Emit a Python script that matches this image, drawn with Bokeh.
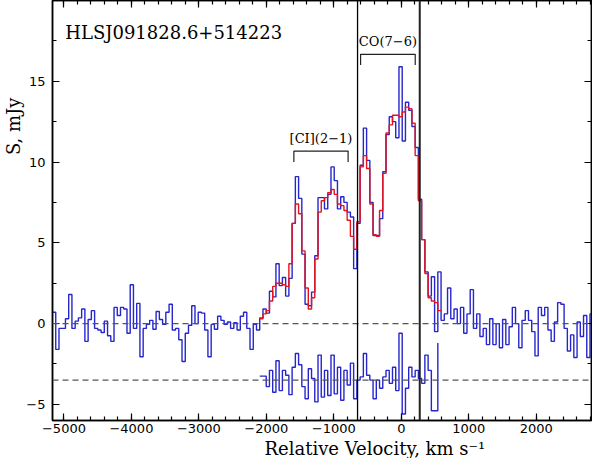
import numpy as np
from bokeh.plotting import figure
from bokeh.models import Span, Label, LinearAxis, Range1d, FixedTicker, Title
from bokeh.embed import file_html
from bokeh.resources import INLINE

# ---- data ----
v_start = -5170.0      # km/s, left edge of first channel
dv = 48.0              # km/s, channel width

flux = [0.7, -1.6, -0.3, -0.3, 0.3, 1.8, -0.3, 0.15, 0.35, 0.9,
        -1.1, 0.25, 0.8, -0.3, -0.4, -0.55, 0.15, -0.75, -1.1, 1.0,
        0.5, 1.0, 0.9, -0.6, 2.4, -0.3, 1.25, -2.05, -0.3, -0.05,
        0.2, -0.35, 0.75, 0.25, -0.05, 0.7, 1.2, -0.4, -0.3, -1.0,
        -2.35, -0.6, -0.1, 1.1, 0.0, 0.7, 0.65, -0.4, -2.05, -0.05,
        -0.35, 0.45, 0.2, -0.05, 0.1, -0.3, 0.05, -0.4, 0.45, 0.7,
        -0.3, -1.6, -0.05, -0.4,
        0.35, 0.9, 0.65, 2.0, 1.65, 3.7, 2.35, 2.85, 1.7, 2.8,
        6.2, 9.1, 7.75, 4.3, 1.2, 1.1, 1.95, 4.2, 7.8, 7.8,
        7.1, 8.0, 9.7, 8.85, 7.1, 7.85, 7.5, 6.9, 6.6, 3.4,
        6.2, 9.8, 12.1, 10.1, 7.5, 5.45, 5.45, 6.5, 9.4, 11.7,
        12.8, 12.5, 11.5, 15.9, 11.3, 13.7, 13.2, 12.2, 10.9, 7.7,
        5.2, 3.2, 1.7, 2.9, -0.5, 3.2,
        0.2, 0.6, 2.2, 0.3, 0.9, 0.0, 1.0, -0.6, 0.6, 2.1,
        -0.3, 0.6, -0.8, -0.3, -1.3, 0.3, -1.3, 0.0, -1.5, 0.25,
        -1.3, -0.2, 1.0, 0.0, -1.5, 0.2, 0.8, 0.2, -0.5, -2.0,
        1.0, 0.5, 1.0, -0.4, -1.1, 0.1, 1.3, 1.2, -0.3, -1.7,
        -0.7, -2.1, 0.1, -0.8, 0.5, -2.1, 0.6]

fit_first_channel = 64
model = [0.3, 0.6, 0.8, 1.4, 2.3, 2.5, 2.5, 2.4, 2.3, 3.7,
         6.2, 7.4, 6.8, 4.5, 2.2, 0.9, 1.6, 4.0, 6.9, 7.6,
         7.8, 8.1, 8.3, 8.0, 7.4, 7.3, 7.0, 6.4, 5.4, 4.6,
         6.3, 9.7, 10.4, 9.6, 7.4, 5.5, 5.4, 7.0, 9.3, 11.8,
         12.3, 12.9, 12.9, 12.8, 13.1, 13.4, 13.3, 12.4, 10.4, 7.6,
         5.2, 3.1, 1.6, 1.4, 1.3, 0.8]

residual = [-3.25, -3.25, -3.9, -2.9, -4.25, -2.3, -4.15, -2.9, -3.2, -4.4,
            -2.7, -1.85, -2.55, -3.9, -4.65, -2.8, -3.4, -4.85, -1.95, -4.55,
            -2.9, -4.45, -1.95, -4.35, -2.7, -4.75, -2.9, -3.8, -2.45, -4.65,
            -3.5, -3.3, -1.85, -3.2, -3.5, -4.65, -3.5, -4.0, -3.3, -2.9,
            -3.7, -2.7, -4.15, -0.6, -5.6, -4.0, -2.7, -3.3, -2.9, -3.4,
            -3.7, -1.95, -2.9, -5.4, -5.4, -1.2]

residual_offset = -3.5
window_lines = [-648, 274]

ci_bracket_x = [-1592, -788]
ci_bracket_y = [10.0, 10.68]
co_bracket_x = [-603, 207]
co_bracket_y = [16.0, 16.67]

x_ticks = [-5000, -4000, -3000, -2000, -1000, 0, 1000, 2000]
x_tick_labels = ["\u22125000", "\u22124000", "\u22123000", "\u22122000", "\u22121000", "0", "1000", "2000"]
y_ticks = [-5, 0, 5, 10, 15]
y_tick_labels = ["\u22125", "0", "5", "10", "15"]

# ---- derived drawing arrays ----
n = len(flux)
edges = v_start + dv * np.arange(n + 1)
flux_y = list(flux) + [flux[-1]]

fit_edges = v_start + dv * np.arange(fit_first_channel, fit_first_channel + len(model) + 1)
model_y = list(model) + [model[-1]]
res_edges = v_start + dv * np.arange(fit_first_channel, fit_first_channel + len(residual))

BLUE = "#2626cc"
RED = "#e3141e"

p = figure(width=592, height=458,
           x_range=Range1d(-5170, 2820), y_range=Range1d(-6, 20),
           output_backend="svg", toolbar_location=None,
           min_border_left=0, min_border_right=1,
           min_border_top=0, min_border_bottom=0)
p.xgrid.visible = False
p.ygrid.visible = False
p.outline_line_color = "black"
p.outline_line_width = 1.5
p.background_fill_color = "white"
p.border_fill_color = "white"

minor_x = list(range(-5200, 2900, 200))
minor_y = [-5 + 2.5 * k for k in range(11)]

def style_axis(ax, show_labels, ticks, labels):
    ax.axis_line_color = "black"
    ax.axis_line_width = 1.5
    ax.major_tick_in = 7
    ax.major_tick_out = 0
    ax.minor_tick_in = 4
    ax.minor_tick_out = 0
    ax.major_tick_line_color = "black"
    ax.minor_tick_line_color = "black"
    ax.major_tick_line_width = 1.2
    ax.minor_tick_line_width = 1.2
    if show_labels:
        ax.major_label_text_font = "DejaVu Sans"
        ax.major_label_text_font_size = "13px"
        ax.major_label_text_color = "black"
        ax.major_label_overrides = dict(zip(ticks, labels))
    else:
        ax.major_label_overrides = {t: "" for t in ticks}
        ax.major_label_text_font_size = "1px"
        ax.major_label_standoff = 0

p.xaxis.ticker = FixedTicker(ticks=x_ticks, minor_ticks=minor_x)
p.yaxis.ticker = FixedTicker(ticks=y_ticks, minor_ticks=minor_y)
style_axis(p.xaxis[0], True, x_ticks, x_tick_labels)
style_axis(p.yaxis[0], True, y_ticks, y_tick_labels)
p.xaxis.major_label_standoff = 3
p.yaxis.major_label_standoff = 7

top = LinearAxis(ticker=FixedTicker(ticks=x_ticks, minor_ticks=minor_x))
style_axis(top, False, x_ticks, x_tick_labels)
p.add_layout(top, "above")
right = LinearAxis(ticker=FixedTicker(ticks=y_ticks, minor_ticks=minor_y))
style_axis(right, False, y_ticks, y_tick_labels)
p.add_layout(right, "right")

# axis titles as side titles (positioned like the reference)
xtitle = Title(text="Relative Velocity, km s\u207b\u00b9", align="left", offset=212,
               text_font="DejaVu Serif", text_font_size="18px", text_font_style="normal",
               text_color="black", standoff=0)
p.add_layout(xtitle, "below")
ytitle = Title(text="S, mJy", align="right", offset=97,
               text_font="DejaVu Serif", text_font_size="18px", text_font_style="normal",
               text_color="black", standoff=0)
p.add_layout(ytitle, "left")

# reference lines
for y0 in (0, residual_offset):
    p.add_layout(Span(location=y0, dimension="width", line_color="#555555",
                      line_width=1.3, line_dash="6 4"))

# spectrum, model, residuals
p.step(edges, flux_y, mode="after", line_color=BLUE, line_width=1.4)
p.step(res_edges, residual, mode="after", line_color=BLUE, line_width=1.4)
p.step(fit_edges, model_y, mode="after", line_color=RED, line_width=1.4)

p.add_layout(Span(location=window_lines[0], dimension="height", line_color="black", line_width=1.3))
p.add_layout(Span(location=window_lines[1], dimension="height", line_color="#222222", line_width=2))

# brackets
p.multi_line(
    xs=[[ci_bracket_x[0], ci_bracket_x[0], ci_bracket_x[1], ci_bracket_x[1]],
        [co_bracket_x[0], co_bracket_x[0], co_bracket_x[1], co_bracket_x[1]]],
    ys=[[ci_bracket_y[0], ci_bracket_y[1], ci_bracket_y[1], ci_bracket_y[0]],
        [co_bracket_y[0], co_bracket_y[1], co_bracket_y[1], co_bracket_y[0]]],
    line_color="#222222", line_width=1.2)

p.add_layout(Label(x=sum(ci_bracket_x) / 2, y=11.45, text="[CI](2\u22121)",
                   text_font="DejaVu Serif", text_font_size="13px",
                   text_align="center", text_baseline="middle", text_color="black"))
p.add_layout(Label(x=sum(co_bracket_x) / 2, y=17.45, text="CO(7\u22126)",
                   text_font="DejaVu Serif", text_font_size="13px",
                   text_align="center", text_baseline="middle", text_color="black"))
p.add_layout(Label(x=-4981, y=18.05, text="HLSJ091828.6+514223",
                   text_font="DejaVu Serif", text_font_size="18px",
                   text_align="left", text_baseline="middle", text_color="black"))

open("out.html", "w").write(file_html(p, INLINE))
